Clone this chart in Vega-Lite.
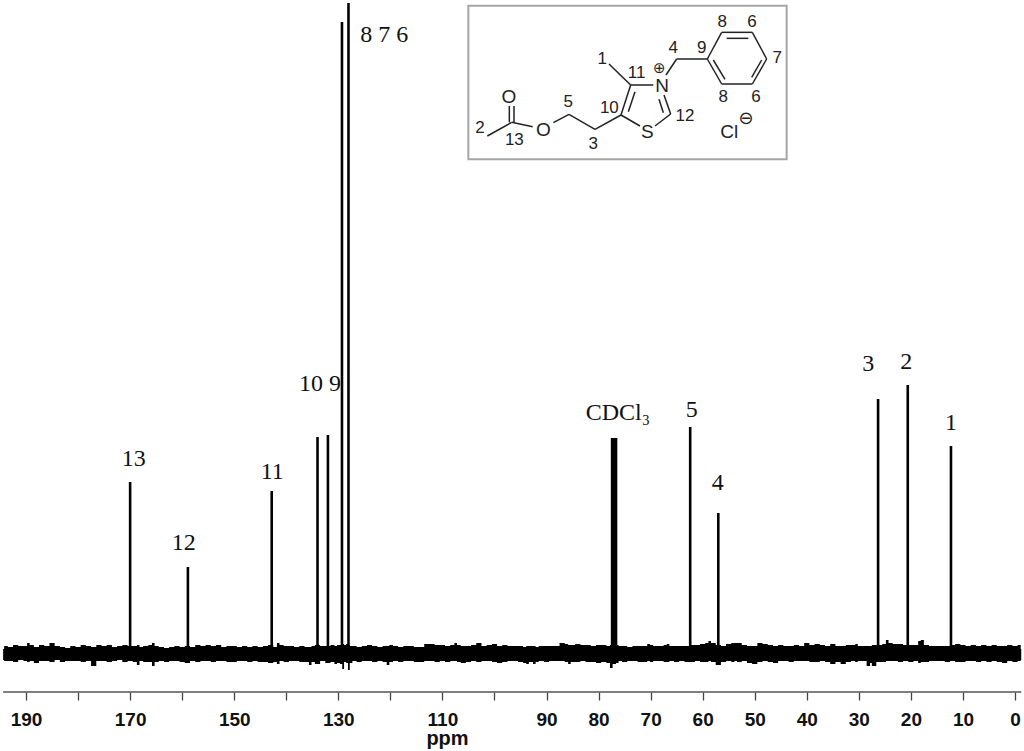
{"$schema":"https://vega.github.io/schema/vega-lite/v6.json","width":1024,"height":751,"padding":0,"autosize":"none","background":"white","config":{"view":{"stroke":null}},
"datasets":{
"noise":[
{"ppm":194.4,"hi":5,"lo":-6},{"ppm":194,"hi":8,"lo":-7},{"ppm":193,"hi":7,"lo":-7},{"ppm":192,"hi":9,"lo":-8},{"ppm":191,"hi":8,"lo":-6},{"ppm":190,"hi":8,"lo":-7},{"ppm":189.6,"hi":11,"lo":-8},{"ppm":189,"hi":9,"lo":-7},{"ppm":188,"hi":7,"lo":-9},{"ppm":187,"hi":9,"lo":-7},{"ppm":186,"hi":8,"lo":-7},{"ppm":185,"hi":11,"lo":-8},{"ppm":184,"hi":8,"lo":-6},{"ppm":183,"hi":7,"lo":-8},{"ppm":182,"hi":6,"lo":-7},{"ppm":181,"hi":8,"lo":-7},{"ppm":180,"hi":7,"lo":-7},{"ppm":179,"hi":9,"lo":-8},{"ppm":178,"hi":8,"lo":-7},{"ppm":177,"hi":7,"lo":-12},{"ppm":176,"hi":9,"lo":-7},{"ppm":175,"hi":8,"lo":-7},{"ppm":174,"hi":9,"lo":-8},{"ppm":173,"hi":7,"lo":-7},{"ppm":172,"hi":8,"lo":-6},{"ppm":171,"hi":9,"lo":-8},{"ppm":170,"hi":8,"lo":-7},{"ppm":169,"hi":8,"lo":-8},{"ppm":168.4,"hi":9,"lo":-11},{"ppm":168,"hi":7,"lo":-7},{"ppm":167,"hi":8,"lo":-8},{"ppm":166,"hi":9,"lo":-8},{"ppm":165.6,"hi":11,"lo":-12},{"ppm":165,"hi":8,"lo":-8},{"ppm":164,"hi":7,"lo":-7},{"ppm":163,"hi":6,"lo":-8},{"ppm":162,"hi":7,"lo":-7},{"ppm":161,"hi":8,"lo":-7},{"ppm":160,"hi":7,"lo":-8},{"ppm":159,"hi":8,"lo":-9},{"ppm":158,"hi":7,"lo":-7},{"ppm":157,"hi":9,"lo":-8},{"ppm":156,"hi":8,"lo":-7},{"ppm":155,"hi":9,"lo":-7},{"ppm":154,"hi":8,"lo":-8},{"ppm":153,"hi":9,"lo":-7},{"ppm":152,"hi":7,"lo":-7},{"ppm":151,"hi":8,"lo":-8},{"ppm":150,"hi":8,"lo":-8},{"ppm":149,"hi":7,"lo":-7},{"ppm":148,"hi":8,"lo":-7},{"ppm":147,"hi":7,"lo":-8},{"ppm":146,"hi":8,"lo":-7},{"ppm":145,"hi":7,"lo":-8},{"ppm":144,"hi":8,"lo":-8},{"ppm":143,"hi":9,"lo":-9},{"ppm":142,"hi":7,"lo":-8},{"ppm":141.6,"hi":11,"lo":-10},{"ppm":141,"hi":9,"lo":-7},{"ppm":140,"hi":8,"lo":-8},{"ppm":139,"hi":8,"lo":-7},{"ppm":138,"hi":7,"lo":-7},{"ppm":137,"hi":8,"lo":-8},{"ppm":136,"hi":7,"lo":-8},{"ppm":135.3,"hi":7,"lo":-11},{"ppm":135,"hi":8,"lo":-8},{"ppm":134,"hi":9,"lo":-10},{"ppm":133,"hi":8,"lo":-7},{"ppm":132,"hi":8,"lo":-9},{"ppm":131,"hi":9,"lo":-8},{"ppm":130.5,"hi":8,"lo":-10},{"ppm":130,"hi":9,"lo":-9},{"ppm":129.4,"hi":9,"lo":-10},{"ppm":129.1,"hi":10,"lo":-15},{"ppm":128.7,"hi":9,"lo":-8},{"ppm":128.3,"hi":10,"lo":-9},{"ppm":128,"hi":9,"lo":-16},{"ppm":127.6,"hi":8,"lo":-9},{"ppm":127,"hi":8,"lo":-7},{"ppm":126,"hi":7,"lo":-8},{"ppm":125,"hi":8,"lo":-7},{"ppm":124,"hi":9,"lo":-7},{"ppm":123,"hi":8,"lo":-8},{"ppm":122,"hi":7,"lo":-7},{"ppm":121,"hi":8,"lo":-8},{"ppm":120.4,"hi":8,"lo":-11},{"ppm":120,"hi":9,"lo":-8},{"ppm":119,"hi":8,"lo":-7},{"ppm":118,"hi":7,"lo":-8},{"ppm":117,"hi":8,"lo":-7},{"ppm":116,"hi":8,"lo":-7},{"ppm":115,"hi":7,"lo":-8},{"ppm":114,"hi":7,"lo":-8},{"ppm":113,"hi":10,"lo":-7},{"ppm":112,"hi":10,"lo":-7},{"ppm":111,"hi":9,"lo":-8},{"ppm":110,"hi":9,"lo":-7},{"ppm":109,"hi":8,"lo":-8},{"ppm":108,"hi":9,"lo":-7},{"ppm":107.4,"hi":11,"lo":-7},{"ppm":107,"hi":9,"lo":-8},{"ppm":106,"hi":8,"lo":-9},{"ppm":105,"hi":8,"lo":-8},{"ppm":104,"hi":9,"lo":-7},{"ppm":103,"hi":11,"lo":-8},{"ppm":102,"hi":8,"lo":-7},{"ppm":101,"hi":9,"lo":-7},{"ppm":100,"hi":10,"lo":-8},{"ppm":99,"hi":8,"lo":-9},{"ppm":98,"hi":9,"lo":-8},{"ppm":97,"hi":8,"lo":-7},{"ppm":96,"hi":8,"lo":-7},{"ppm":95,"hi":8,"lo":-8},{"ppm":94,"hi":7,"lo":-9},{"ppm":93.8,"hi":8,"lo":-10},{"ppm":93,"hi":8,"lo":-8},{"ppm":92.2,"hi":8,"lo":-10},{"ppm":92,"hi":7,"lo":-8},{"ppm":91,"hi":8,"lo":-7},{"ppm":90,"hi":8,"lo":-8},{"ppm":89,"hi":8,"lo":-7},{"ppm":88,"hi":8,"lo":-7},{"ppm":87,"hi":11,"lo":-7},{"ppm":86,"hi":10,"lo":-8},{"ppm":85.7,"hi":9,"lo":-10},{"ppm":85,"hi":9,"lo":-8},{"ppm":84,"hi":10,"lo":-8},{"ppm":83,"hi":9,"lo":-7},{"ppm":82,"hi":9,"lo":-8},{"ppm":81,"hi":8,"lo":-8},{"ppm":80,"hi":9,"lo":-9},{"ppm":79,"hi":9,"lo":-8},{"ppm":78,"hi":8,"lo":-9},{"ppm":77.6,"hi":9,"lo":-14},{"ppm":77,"hi":10,"lo":-10},{"ppm":76.3,"hi":9,"lo":-9},{"ppm":76,"hi":8,"lo":-7},{"ppm":75,"hi":8,"lo":-8},{"ppm":74,"hi":7,"lo":-7},{"ppm":73,"hi":8,"lo":-7},{"ppm":72,"hi":8,"lo":-8},{"ppm":71,"hi":8,"lo":-8},{"ppm":70.3,"hi":10,"lo":-7},{"ppm":70,"hi":9,"lo":-8},{"ppm":69,"hi":8,"lo":-7},{"ppm":68,"hi":8,"lo":-7},{"ppm":67,"hi":9,"lo":-8},{"ppm":66.8,"hi":10,"lo":-8},{"ppm":66,"hi":8,"lo":-7},{"ppm":65,"hi":8,"lo":-8},{"ppm":64,"hi":8,"lo":-7},{"ppm":63,"hi":8,"lo":-8},{"ppm":62,"hi":9,"lo":-8},{"ppm":61,"hi":9,"lo":-7},{"ppm":60,"hi":10,"lo":-8},{"ppm":59,"hi":11,"lo":-8},{"ppm":58.8,"hi":13,"lo":-7},{"ppm":58,"hi":11,"lo":-8},{"ppm":57,"hi":9,"lo":-11},{"ppm":56,"hi":8,"lo":-8},{"ppm":55,"hi":10,"lo":-7},{"ppm":54,"hi":11,"lo":-8},{"ppm":53.8,"hi":11,"lo":-7},{"ppm":53,"hi":11,"lo":-8},{"ppm":52,"hi":9,"lo":-7},{"ppm":51,"hi":8,"lo":-9},{"ppm":50,"hi":8,"lo":-10},{"ppm":49,"hi":11,"lo":-8},{"ppm":48,"hi":10,"lo":-7},{"ppm":47,"hi":9,"lo":-8},{"ppm":46,"hi":8,"lo":-9},{"ppm":45,"hi":9,"lo":-7},{"ppm":44,"hi":8,"lo":-7},{"ppm":43,"hi":8,"lo":-8},{"ppm":42,"hi":9,"lo":-7},{"ppm":41,"hi":8,"lo":-7},{"ppm":40,"hi":11,"lo":-7},{"ppm":39,"hi":9,"lo":-8},{"ppm":38,"hi":10,"lo":-8},{"ppm":37,"hi":9,"lo":-7},{"ppm":36,"hi":8,"lo":-8},{"ppm":35,"hi":10,"lo":-10},{"ppm":34,"hi":8,"lo":-8},{"ppm":33,"hi":8,"lo":-10},{"ppm":32,"hi":9,"lo":-8},{"ppm":31,"hi":9,"lo":-7},{"ppm":30.4,"hi":10,"lo":-8},{"ppm":30,"hi":8,"lo":-7},{"ppm":29,"hi":8,"lo":-7},{"ppm":28,"hi":8,"lo":-12},{"ppm":27.7,"hi":8,"lo":-9},{"ppm":27.3,"hi":9,"lo":-12},{"ppm":26,"hi":9,"lo":-8},{"ppm":25,"hi":10,"lo":-8},{"ppm":24.6,"hi":14,"lo":-7},{"ppm":24,"hi":11,"lo":-7},{"ppm":23,"hi":10,"lo":-7},{"ppm":22,"hi":10,"lo":-8},{"ppm":21,"hi":9,"lo":-7},{"ppm":20,"hi":9,"lo":-8},{"ppm":19,"hi":9,"lo":-7},{"ppm":18.2,"hi":13,"lo":-9},{"ppm":18,"hi":14,"lo":-8},{"ppm":17,"hi":9,"lo":-8},{"ppm":16,"hi":8,"lo":-7},{"ppm":15,"hi":8,"lo":-7},{"ppm":14,"hi":8,"lo":-7},{"ppm":13,"hi":8,"lo":-8},{"ppm":12,"hi":9,"lo":-7},{"ppm":11,"hi":10,"lo":-8},{"ppm":10,"hi":9,"lo":-8},{"ppm":9,"hi":8,"lo":-7},{"ppm":8,"hi":9,"lo":-7},{"ppm":7,"hi":8,"lo":-8},{"ppm":6,"hi":9,"lo":-7},{"ppm":5,"hi":8,"lo":-8},{"ppm":4,"hi":9,"lo":-7},{"ppm":3,"hi":8,"lo":-8},{"ppm":2,"hi":8,"lo":-9},{"ppm":1,"hi":9,"lo":-7},{"ppm":0,"hi":8,"lo":-8},{"ppm":-1,"hi":9,"lo":-7},{"ppm":-1.2,"hi":5,"lo":-6}],
"peaks":[{"ppm":170,"intensity":172},{"ppm":158.9,"intensity":87},{"ppm":142.8,"intensity":163},{"ppm":134,"intensity":217},{"ppm":132,"intensity":219},{"ppm":129.3,"intensity":632},{"ppm":128.05,"intensity":651},{"ppm":77.4,"intensity":216},{"ppm":77.0,"intensity":216},{"ppm":76.65,"intensity":216},{"ppm":62.4,"intensity":227},{"ppm":57,"intensity":141},{"ppm":26.3,"intensity":255},{"ppm":20.6,"intensity":269},{"ppm":12.3,"intensity":208}],
"labels":[{"ppm":169.3,"intensity":195,"text":"13"},{"ppm":159.7,"intensity":111,"text":"12"},{"ppm":142.7,"intensity":182,"text":"11"},{"ppm":133.5,"intensity":270,"text":"10 9"},{"ppm":121.2,"intensity":619,"text":"8 7 6"},{"ppm":76.3,"intensity":241,"text":"CDCl₃"},{"ppm":62.1,"intensity":244,"text":"5"},{"ppm":57.1,"intensity":171,"text":"4"},{"ppm":28.2,"intensity":290,"text":"3"},{"ppm":20.9,"intensity":292,"text":"2"},{"ppm":12.3,"intensity":231,"text":"1"}],
"axisline":[{"from":194.4,"to":-1.2,"level":-38}],
"frame":[{"mx":25,"mx2":980,"my":17,"my2":478}],
"bonds":[{"mx":82,"mx2":155,"my":408,"my2":367},{"mx":155,"mx2":218,"my":367,"my2":380},{"mx":148,"mx2":148,"my":367,"my2":318},{"mx":162,"mx2":162,"my":367,"my2":318},{"mx":280,"mx2":327,"my":368,"my2":343},{"mx":327,"mx2":405,"my":343,"my2":388},{"mx":405,"mx2":483,"my":388,"my2":345},{"mx":483,"mx2":540,"my":345,"my2":378},{"mx":585,"mx2":632,"my":378,"my2":342},{"mx":632,"mx2":612,"my":342,"my2":285},{"mx":610,"mx2":597,"my":338,"my2":298},{"mx":580,"mx2":512,"my":255,"my2":255},{"mx":512,"mx2":483,"my":255,"my2":345},{"mx":525,"mx2":505,"my":275,"my2":335},{"mx":512,"mx2":447,"my":255,"my2":192},{"mx":618,"mx2":650,"my":225,"my2":177},{"mx":650,"mx2":742,"my":177,"my2":177},{"mx":742,"mx2":785,"my":177,"my2":97},{"mx":785,"mx2":877,"my":97,"my2":97},{"mx":877,"mx2":920,"my":97,"my2":177},{"mx":920,"mx2":877,"my":177,"my2":252},{"mx":877,"mx2":785,"my":252,"my2":252},{"mx":785,"mx2":742,"my":252,"my2":177},{"mx":800,"mx2":865,"my":115,"my2":115},{"mx":905,"mx2":875,"my":180,"my2":232},{"mx":760,"mx2":795,"my":180,"my2":238}],
"molnumbers":[{"mx":787,"my":65,"t":"8"},{"mx":876,"my":65,"t":"6"},{"mx":725,"my":145,"t":"9"},{"mx":952,"my":175,"t":"7"},{"mx":640,"my":145,"t":"4"},{"mx":427,"my":178,"t":"1"},{"mx":530,"my":218,"t":"11"},{"mx":325,"my":306,"t":"5"},{"mx":448,"my":323,"t":"10"},{"mx":675,"my":348,"t":"12"},{"mx":790,"my":292,"t":"8"},{"mx":888,"my":292,"t":"6"},{"mx":60,"my":385,"t":"2"},{"mx":163,"my":420,"t":"13"},{"mx":400,"my":432,"t":"3"}],
"atoms":[{"mx":606,"my":258,"t":"N"},{"mx":147,"my":292,"t":"O"},{"mx":250,"my":390,"t":"O"},{"mx":562,"my":397,"t":"S"},{"mx":808,"my":395,"t":"Cl"}],
"plus":[{"mx":598,"my":205,"t":"⊕"}],
"minus":[{"mx":858,"my":358,"t":"⊖"}]
},
"layer":[
{"layer":[
{"data":{"name":"noise"},"mark":{"type":"area","color":"#000","interpolate":"step"},"encoding":{"x":{"field":"ppm","type":"quantitative","scale":{"domain":[195,-1.731],"range":[0,1024],"nice":false,"zero":false},"axis":{"values":[190,185,180,175,170,165,160,155,150,145,140,135,130,125,120,115,110,105,100,95,90,85,80,75,70,65,60,55,50,45,40,35,30,25,20,15,10,5,0],"labelExpr":"indexof([190,170,150,130,110,90,80,70,60,50,40,30,20,10,0],datum.value)>=0?datum.label:''","labelOverlap":false,"labelFlush":false,"labelFont":"Liberation Sans","labelFontWeight":"bold","labelFontSize":19,"labelColor":"#111","labelPadding":10,"grid":false,"domain":false,"offset":-59,"tickColor":"#444","tickWidth":1.3,"tickSize":{"condition":{"test":"datum.value%10===0","value":8},"value":4},"title":"ppm","titleFont":"Liberation Sans","titleFontWeight":"bold","titleFontSize":20,"titleColor":"#111","titleX":447,"titleY":46,"titleBaseline":"middle","titleAlign":"center"}},"y":{"field":"hi","type":"quantitative","scale":{"domain":[-97,654],"nice":false,"zero":false},"axis":null},"y2":{"field":"lo"}}},
{"data":{"name":"peaks"},"mark":{"type":"rule","color":"#000","strokeWidth":2.6},"encoding":{"x":{"field":"ppm","type":"quantitative"},"y":{"field":"intensity","type":"quantitative"},"y2":{"datum":0}}},
{"data":{"name":"axisline"},"mark":{"type":"rule","color":"#555","strokeWidth":1.5},"encoding":{"x":{"field":"from","type":"quantitative"},"x2":{"field":"to"},"y":{"field":"level","type":"quantitative"}}},
{"data":{"name":"labels"},"mark":{"type":"text","font":"Liberation Serif","fontSize":24,"color":"#111","baseline":"middle","align":"center"},"encoding":{"x":{"field":"ppm","type":"quantitative"},"y":{"field":"intensity","type":"quantitative"},"text":{"field":"text"}}}
]},
{"layer":[
{"data":{"name":"frame"},"mark":{"type":"rect","fill":null,"stroke":"#a6a6a6","strokeWidth":2},"encoding":{"x":{"field":"mx","type":"quantitative","scale":{"domain":[-1380,1692],"range":[0,1024],"nice":false,"zero":false},"axis":null},"x2":{"field":"mx2"},"y":{"field":"my","type":"quantitative","scale":{"domain":[2253,0],"range":[751,0],"nice":false,"zero":false},"axis":null},"y2":{"field":"my2"}}},
{"data":{"name":"bonds"},"mark":{"type":"rule","color":"#222","strokeWidth":1.5},"encoding":{"x":{"field":"mx","type":"quantitative"},"x2":{"field":"mx2"},"y":{"field":"my","type":"quantitative"},"y2":{"field":"my2"}}},
{"data":{"name":"molnumbers"},"mark":{"type":"text","font":"Liberation Sans","fontSize":17,"color":"#222","baseline":"middle","align":"center"},"encoding":{"x":{"field":"mx","type":"quantitative"},"y":{"field":"my","type":"quantitative"},"text":{"field":"t"}}},
{"data":{"name":"atoms"},"mark":{"type":"text","font":"Liberation Sans","fontSize":19,"color":"#222","baseline":"middle","align":"center"},"encoding":{"x":{"field":"mx","type":"quantitative"},"y":{"field":"my","type":"quantitative"},"text":{"field":"t"}}},
{"data":{"name":"plus"},"mark":{"type":"text","font":"DejaVu Sans","fontSize":15,"color":"#222","baseline":"middle","align":"center"},"encoding":{"x":{"field":"mx","type":"quantitative"},"y":{"field":"my","type":"quantitative"},"text":{"field":"t"}}},
{"data":{"name":"minus"},"mark":{"type":"text","font":"DejaVu Sans","fontSize":18,"color":"#222","baseline":"middle","align":"center"},"encoding":{"x":{"field":"mx","type":"quantitative"},"y":{"field":"my","type":"quantitative"},"text":{"field":"t"}}}
]}
],
"resolve":{"scale":{"x":"independent","y":"independent"},"axis":{"x":"independent","y":"independent"}}
}
